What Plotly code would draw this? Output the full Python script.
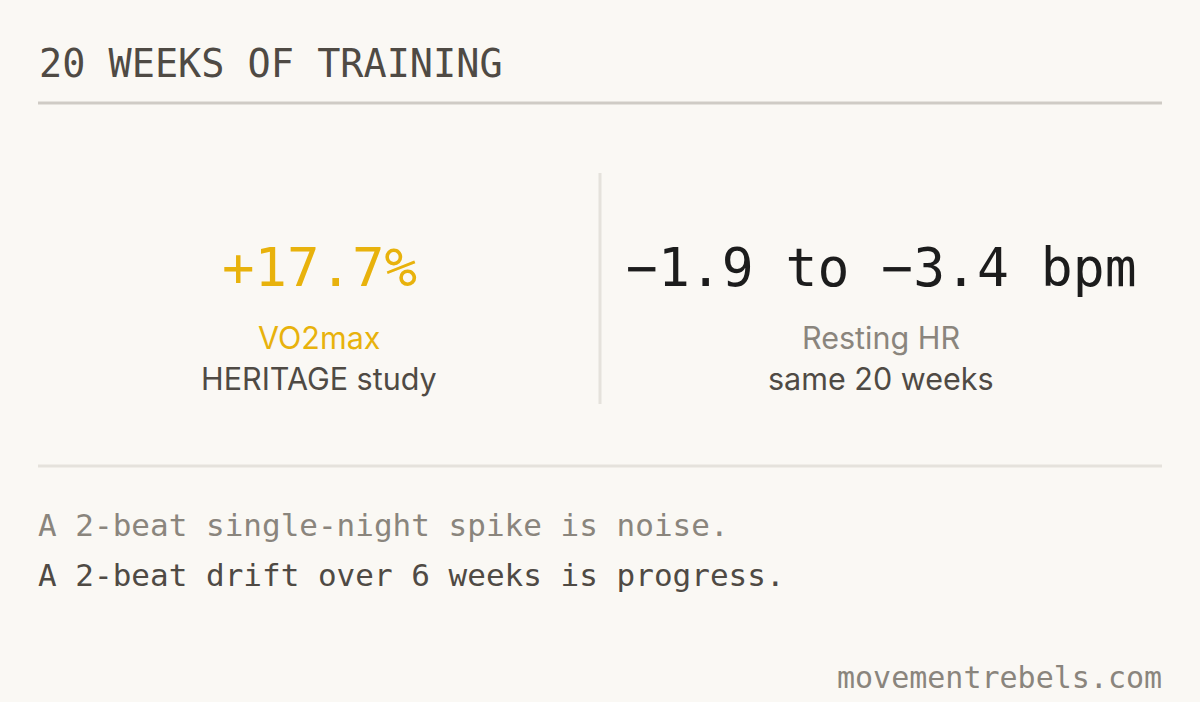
import plotly.graph_objects as go

# card content
title = "20 WEEKS OF TRAINING"
stat_values = ["+17.7%", "\u22121.9 to \u22123.4 bpm"]
stat_labels = ["VO2max", "Resting HR"]
stat_notes = ["HERITAGE study", "same 20 weeks"]
takeaways = ["A 2-beat single-night spike is noise.",
             "A 2-beat drift over 6 weeks is progress."]
footer = "movementrebels.com"

W, H = 1200, 702
BG = "#FAF8F4"
MONO = "DejaVu Sans Mono"
SANS = "Inter"
GOLD = "#E8B20C"
DARK = "#4F4A44"
MUTED = "#8A857D"

value_colors = [GOLD, "#1C1C1C"]
label_colors = [GOLD, MUTED]
value_sizes = [54, 53]
col_x = [319, 881]

fig = go.Figure()

ann = []
ann.append(dict(x=37, y=63, text=title, xanchor="left", yanchor="middle",
                font=dict(family=MONO, size=38.5, color=DARK)))

for i in range(2):
    ann.append(dict(x=col_x[i], y=267, text=stat_values[i], xanchor="center", yanchor="middle",
                    font=dict(family=MONO, size=value_sizes[i], color=value_colors[i])))
    ann.append(dict(x=col_x[i], y=337, text=stat_labels[i], xanchor="center", yanchor="middle",
                    font=dict(family=SANS, size=30.5, color=label_colors[i])))
    ann.append(dict(x=col_x[i], y=378, text=stat_notes[i], xanchor="center", yanchor="middle",
                    font=dict(family=SANS, size=30.5, color=DARK)))

line_colors = [MUTED, DARK]
for i, t in enumerate(takeaways):
    ann.append(dict(x=36, y=525 + 50 * i, text=t, xanchor="left", yanchor="middle",
                    font=dict(family=MONO, size=31, color=line_colors[i])))

ann.append(dict(x=1164, y=677, text=footer, xanchor="right", yanchor="middle",
                font=dict(family=MONO, size=30, color=MUTED)))

for a in ann:
    a.update(xref="x", yref="y", showarrow=False)

shapes = [
    dict(type="line", x0=38, x1=1162, y0=103, y1=103, line=dict(color="#CFCBC5", width=3)),
    dict(type="line", x0=600, x1=600, y0=173, y1=404, line=dict(color="#E5E2DC", width=3)),
    dict(type="line", x0=38, x1=1162, y0=466, y1=466, line=dict(color="#E5E2DC", width=3)),
]
for s in shapes:
    s.update(xref="x", yref="y", layer="below")

fig.update_layout(
    width=W, height=H,
    margin=dict(l=0, r=0, t=0, b=0),
    paper_bgcolor=BG, plot_bgcolor=BG,
    annotations=ann, shapes=shapes,
    showlegend=False,
)
fig.update_xaxes(range=[0, W], visible=False, fixedrange=True)
fig.update_yaxes(range=[H, 0], visible=False, fixedrange=True)

fig.write_html("out.html", config={"displayModeBar": False},
               post_script="document.body.style.margin='0';document.body.style.background='" + BG + "';")
